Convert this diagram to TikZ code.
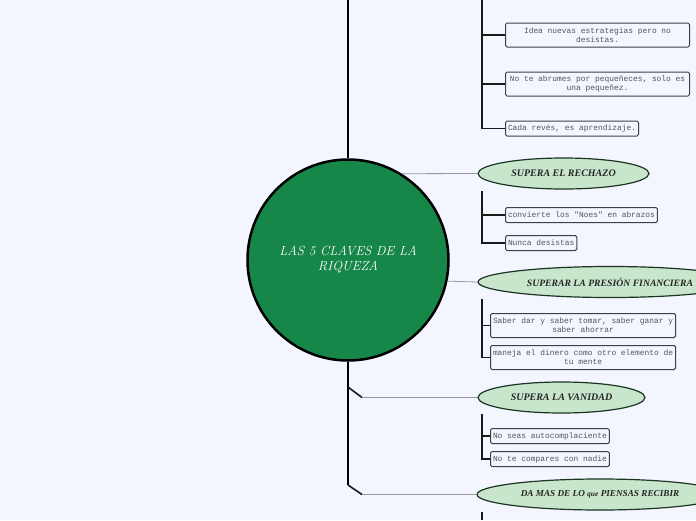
\documentclass[tikz,border=0pt]{standalone}
\usepackage{fontspec}
\usepackage{tikz}
\usetikzlibrary{shapes.geometric, positioning}
\newfontfamily\leaffont{Liberation Mono}
\newfontfamily\topicfont{Liberation Serif}
\definecolor{cPage}{RGB}{243,246,254}
\definecolor{cCore}{RGB}{23,134,73}
\definecolor{cTopic}{RGB}{200,230,204}
\definecolor{cTopicLine}{RGB}{28,52,34}
\definecolor{cLink}{RGB}{150,150,156}
\definecolor{cLeafText}{RGB}{85,85,85}
\tikzset{
	core/.style  ={circle, draw=black, line width=2.5pt, fill=cCore, minimum size=201, inner sep=0pt,
		align=center, text=white, font=\itshape\fontsize{13.2}{15}\selectfont},
	topic/.style ={ellipse, draw=cTopicLine, line width=1.2pt, fill=cTopic, minimum height=31, inner sep=0pt,
		text=black!85, font=\topicfont\bfseries\itshape\fontsize{10}{12}\selectfont},
	leaf/.style  ={rectangle, rounded corners=1.5pt, draw=black!75, line width=1pt, fill=cPage, inner sep=2.5pt,
		minimum height=15, align=center, anchor=west, text=cLeafText, font=\leaffont\fontsize{7.9}{9}\selectfont},
	leaf2/.style ={leaf, minimum width=184, minimum height=24},
	trunk/.style ={line width=2.5pt, black},
	branch/.style={line width=1.6pt, black!90},
	link/.style  ={line width=0.8pt, cLink},
}
\begin{document}
\begin{tikzpicture}[x=1pt, y=-1pt]
	\path[use as bounding box, fill=cPage] (0,0) rectangle (696,520);
	% centre and topics
	\node[core] (c) at (348,260) {LAS 5 CLAVES DE LA\\ RIQUEZA};
	\node[topic, minimum width=171] (rechazo) at (563.5,173.5) {SUPERA EL RECHAZO};
	\node[topic, minimum width=264, font=\topicfont\bfseries\itshape\fontsize{9.7}{12}\selectfont] (presion) at (610,282) {SUPERAR LA PRESIÓN FINANCIERA};
	\node[topic, minimum width=167] (vanidad) at (561.5,397.5) {SUPERA LA VANIDAD};
	\node[topic, minimum width=246, font=\topicfont\bfseries\itshape\fontsize{9.2}{11}\selectfont] (dama) at (600,494.5) {DA MAS DE LO {\fontsize{7.5}{9}\selectfont que} PIENSAS RECIBIR};
	% leaves
	\node[leaf2] (t1) at (505,35) {Idea nuevas estrategias pero no\\ desistas.};
	\node[leaf2] (t2) at (505,84) {No te abrumes por pequeñeces, solo es\\ una pequeñez.};
	\node[leaf]  (t3) at (505,128.5) {Cada revés, es aprendizaje.};
	\node[leaf]  (r1) at (505,215) {convierte los "Noes" en abrazos};
	\node[leaf]  (r2) at (505,243) {Nunca desistas};
	\node[leaf2] (p1) at (490,325.5) {Saber dar y saber tomar, saber ganar y\\ saber ahorrar};
	\node[leaf2] (p2) at (490,357.5) {maneja el dinero como otro elemento de\\ tu mente};
	\node[leaf]  (v1) at (490,436) {No seas autocomplaciente};
	\node[leaf]  (v2) at (490,459) {No te compares con nadie};
	% branch points
	\coordinate (top) at (348,0);
	\coordinate (j1) at (348,387);
	\coordinate (j2) at (348,485);
	\coordinate (k1) at (362,397.5);
	\coordinate (k2) at (362,494.5);
	\coordinate (tb) at (482,0);
	\coordinate (rb) at (482,191);
	\coordinate (pb) at (482,299);
	\coordinate (vb) at (482,414);
	\coordinate (db) at (482,512);
	\coordinate (dend) at (482,520);
	% connectors
	\draw[trunk] (c) -- (top);
	\draw[trunk] (c) -- (j2);
	\draw[branch] (j1) -- (k1);
	\draw[branch] (j2) -- (k2);
	\draw[link] (k1) -- (vanidad);
	\draw[link] (k2) -- (dama);
	\draw[link] (c.58) -- (rechazo.west);
	\draw[link] (c.-12.5) -- (presion.west);
	\foreach \l in {t1,t2,t3} \draw[branch] (tb) |- (\l);
	\foreach \l in {r1,r2} \draw[branch] (rb) |- (\l);
	\foreach \l in {p1,p2} \draw[branch] (pb) |- (\l);
	\foreach \l in {v1,v2} \draw[branch] (vb) |- (\l);
	\draw[branch] (db) -- (dend);
\end{tikzpicture}
\end{document}
